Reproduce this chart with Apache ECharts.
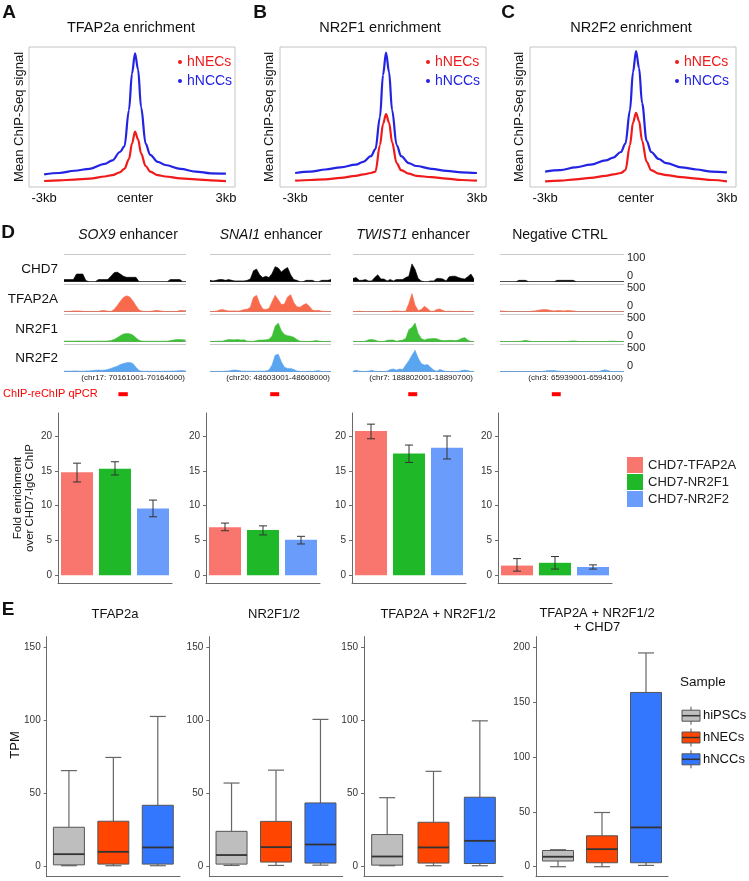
<!DOCTYPE html>
<html><head><meta charset="utf-8">
<script src="https://cdn.jsdelivr.net/npm/echarts@6/dist/echarts.min.js"></script>
<style>html,body{margin:0;padding:0;background:#fff}#c{width:749px;height:881px}</style>
</head><body><div id="c"></div>
<script>
// ---------------- DATA ----------------
// Panels A-C: mean ChIP-seq profiles (relative units), position in kb from peak center
const profileX = [-3,-2.5,-2,-1.5,-1,-0.75,-0.5,-0.35,-0.2,-0.1,0,0.1,0.2,0.35,0.5,0.75,1,1.5,2,2.5,3];
const tfap2aNECs = [0.043,0.047,0.053,0.06,0.075,0.085,0.105,0.13,0.2,0.31,0.395,0.34,0.24,0.15,0.11,0.085,0.075,0.062,0.055,0.048,0.042];
const tfap2aNCCs = [0.09,0.10,0.116,0.13,0.165,0.19,0.25,0.29,0.55,0.81,0.955,0.84,0.57,0.31,0.23,0.18,0.157,0.13,0.11,0.098,0.095];
const nr2f1NECs = [0.045,0.05,0.055,0.065,0.08,0.09,0.1,0.11,0.3,0.45,0.52,0.46,0.32,0.17,0.12,0.095,0.08,0.07,0.06,0.05,0.045];
const nr2f1NCCs = [0.10,0.11,0.125,0.14,0.16,0.18,0.22,0.27,0.5,0.8,0.96,0.82,0.55,0.3,0.22,0.17,0.15,0.13,0.115,0.105,0.10];
const nr2f2NECs = [0.04,0.045,0.055,0.065,0.08,0.09,0.1,0.12,0.3,0.46,0.53,0.47,0.33,0.18,0.12,0.095,0.085,0.07,0.06,0.05,0.04];
const nr2f2NCCs = [0.11,0.12,0.14,0.16,0.19,0.21,0.25,0.31,0.55,0.82,0.97,0.85,0.6,0.33,0.25,0.2,0.17,0.14,0.125,0.11,0.105];
const profileTitles = ['TFAP2a enrichment','NR2F1 enrichment','NR2F2 enrichment'];
const profileTickValues = [-3,0,3];
const profileTickLabels = ['-3kb','center','3kb'];
const cellNames = ['hNECs','hNCCs'];

// Panel D: genome browser tracks (40 bins per region)
const trackNames = ['CHD7','TFAP2A','NR2F1','NR2F2'];
const trackScale = [100,500,500,500];
const regionTitles = ['SOX9','SNAI1','TWIST1','Negative CTRL'];
const regionCoords = ['(chr17: 70161001-70164000)','(chr20: 48603001-48608000)','(chr7: 188802001-18890700)','(chr3: 65939001-6594100)'];
const sox9CHD7   = [8,8,8,8,28,28,28,4,0,0,0,8,8,8,8,20,33,35,28,20,16,16,16,16,0,0,0,0,0,0,0,0,0,0,8,8,8,8,0,0];
const sox9TFAP2A = [5,5,5,15,15,15,8,5,5,5,5,5,20,20,10,5,40,110,190,260,290,270,200,110,30,10,5,5,10,20,20,15,5,5,5,5,5,20,20,20];
const sox9NR2F1  = [10,10,10,10,12,12,10,10,10,10,10,10,10,10,15,20,40,70,110,140,150,145,120,70,25,10,8,8,8,8,8,8,8,10,20,30,40,40,35,30];
const sox9NR2F2  = [10,10,10,15,15,10,10,15,15,20,25,30,25,30,40,60,80,100,130,150,165,170,150,80,20,10,8,8,8,8,8,8,8,10,10,15,15,20,20,15];
const snai1CHD7   = [5,3,5,8,8,5,8,5,3,3,3,3,5,10,40,46,25,15,20,15,30,55,50,35,45,52,25,8,5,0,0,5,5,5,0,0,5,5,5,8];
const snai1TFAP2A = [5,5,10,30,40,25,15,15,15,10,20,40,45,80,260,300,150,50,40,60,180,300,220,130,140,270,310,170,90,80,120,150,100,30,20,25,10,5,5,5];
const snai1NR2F1  = [5,5,8,10,10,25,40,35,35,40,30,35,10,5,5,20,30,30,35,45,100,280,340,200,130,110,100,80,40,10,5,5,5,10,20,15,5,5,5,5];
const snai1NR2F2  = [5,5,5,5,5,10,15,25,30,25,15,10,10,10,10,10,10,10,15,30,120,300,320,180,80,60,60,40,15,5,5,5,10,5,15,20,5,5,5,5];
const twist1CHD7   = [12,15,5,5,8,3,3,15,25,10,10,3,8,3,8,8,8,15,20,65,45,12,3,0,0,3,3,12,12,10,3,18,20,20,15,12,10,18,28,10];
const twist1TFAP2A = [3,3,10,3,0,0,0,0,0,0,0,3,3,15,15,10,5,10,150,330,120,20,40,100,60,10,10,40,50,20,5,10,5,5,5,10,5,3,3,3];
const twist1NR2F1  = [5,5,5,5,10,35,40,30,10,5,5,25,30,30,10,20,30,60,220,260,340,150,60,30,50,55,60,55,30,20,20,25,25,20,30,60,75,30,5,5];
const twist1NR2F2  = [10,25,10,5,5,10,25,10,5,5,5,10,40,50,30,50,40,120,200,300,390,250,150,120,130,80,30,10,40,20,5,5,5,5,5,20,30,20,5,5];
const ctrlCHD7   = [0,0,0,0,0,0,5,5,5,0,0,0,0,0,0,0,0,0,5,5,5,5,5,5,0,0,0,0,0,0,0,0,0,0,0,0,0,0,0,0];
const ctrlTFAP2A = [15,10,5,0,0,0,0,0,0,0,10,15,25,35,40,35,20,15,20,20,15,20,20,15,5,0,0,0,0,0,0,0,0,0,0,0,0,0,0,0];
const ctrlNR2F1  = [3,3,3,3,3,3,3,15,25,15,3,3,3,3,3,3,3,3,3,3,3,3,10,15,10,3,3,3,3,3,3,3,3,3,5,10,10,5,3,3];
const ctrlNR2F2  = [3,3,3,3,3,3,3,3,3,3,3,3,3,3,10,20,20,20,15,10,3,3,3,3,3,3,3,3,3,3,3,3,20,35,20,3,3,3,3,3];
const qpcrAmplicons = [[17.4,20.4],[19.4,22.3],[17.8,20.7],[16.3,19.1]]; // bin coordinates

// Panel D: ChIP-reChIP fold enrichment
const pairNames = ['CHD7-TFAP2A','CHD7-NR2F1','CHD7-NR2F2'];
const foldTFAP2A = [14.8,6.9,20.7,1.4], loTFAP2A = [13.4,6.4,19.6,0.6], hiTFAP2A = [16.1,7.5,21.7,2.4];
const foldNR2F1  = [15.3,6.5,17.5,1.8], loNR2F1  = [14.4,5.8,16.2,0.9], hiNR2F1  = [16.3,7.1,18.7,2.7];
const foldNR2F2  = [9.6,5.1,18.3,1.2],  loNR2F2  = [8.4,4.5,16.7,0.9],  hiNR2F2  = [10.8,5.6,20.0,1.5];
const foldTicks = [0,5,10,15,20];

// Panel E: TPM boxplots [min, Q1, median, Q3, max]
const samples = ['hiPSCs','hNECs','hNCCs'];
const boxTitles = ['TFAP2a','NR2F1/2','TFAP2A + NR2F1/2','TFAP2A + NR2F1/2\n+ CHD7'];
const boxTFAP2a = [[0.5,1.1,8.4,26.8,65.5],[0.5,1.6,10,30.9,74.5],[0.5,1.6,13,41.8,102.5]];
const boxNR2F   = [[0.7,1.6,7.8,24,57],[0.7,3,13.2,30.8,65.8],[0.9,2.3,15,43.4,100.5]];
const boxBoth   = [[0.5,0.9,6.8,21.8,47],[0.5,2.3,13,30.2,65],[0.5,2,17.5,47.3,99.5]];
const boxAll    = [[0,5.2,9.1,14.8,15.5],[0,3.6,16,28.2,49.4],[1.2,3.6,35.8,158.8,194.8]];
const tpmTicksA = [0,50,100,150];
const tpmTicksB = [0,50,100,150,200];

// ---------------- STYLE / LAYOUT ----------------
const FONT = 'Liberation Sans, Arial, Helvetica, sans-serif';
const RED = '#f01a1a', BLUE = '#2323e4';
const trackColors = ['#000000','#f9694b','#3cbf34','#5aa5ef'];
const pairColors = ['#f8766d','#1eb829','#6a9cfb'];
const sampleColors = ['#bebebe','#ff4500','#3377ff'];

const grids=[], xAxes=[], yAxes=[], series=[], legends=[], graphics=[];
function addGrid(g,xa,ya){const i=grids.length;grids.push(g);xa.gridIndex=i;ya.gridIndex=i;xAxes.push(xa);yAxes.push(ya);return i;}
function T(text,x,y,o){o=o||{};graphics.push({type:'text',x:x,y:y,rotation:o.rot||0,silent:true,style:Object.assign({text:text,fill:o.color||'#111',fontSize:o.size||13,fontFamily:FONT,fontWeight:o.weight||'normal',align:o.align||'center',verticalAlign:o.va||'middle'},o.extra||{})});}

// ---- Panels A-C
const profileLeft=[29,280,530], profileW=206, profileTop=47, profileH=140;
const profileSets=[[tfap2aNECs,tfap2aNCCs],[nr2f1NECs,nr2f1NCCs],[nr2f2NECs,nr2f2NCCs]];
const legendLeft=[178,426,675], titleX=[131,380,631], ylabX=[19,269,519];
profileSets.forEach((set,p)=>{
  const gi=addGrid({left:profileLeft[p],top:profileTop,width:profileW,height:profileH,show:true,borderColor:'#c4c4c4',borderWidth:1},
    {type:'value',min:-3.5,max:3.3,axisLine:{show:false},axisTick:{show:false},splitLine:{show:false},
     axisLabel:{customValues:profileTickValues,formatter:v=>profileTickLabels[profileTickValues.indexOf(v)],margin:5,fontSize:13,color:'#111',fontFamily:FONT}},
    {type:'value',min:0,max:1,show:false});
  [[set[1],cellNames[1],BLUE],[set[0],cellNames[0],RED]].forEach(([arr,name,col])=>{
    series.push({type:'line',name:name,xAxisIndex:gi,yAxisIndex:gi,data:profileX.map((x,i)=>[x,arr[i]]),showSymbol:false,smooth:0.35,smoothMonotone:'x',lineStyle:{color:col,width:2.2},itemStyle:{color:col},silent:true});
  });
  legends.push({left:legendLeft[p],top:55,padding:0,orient:'vertical',selectedMode:false,icon:'circle',itemWidth:4,itemHeight:4,itemGap:5,
    data:[{name:cellNames[0],textStyle:{color:RED}},{name:cellNames[1],textStyle:{color:BLUE}}],textStyle:{fontSize:14,fontFamily:FONT}});
  T(profileTitles[p],titleX[p],28,{size:14.5});
  T('Mean ChIP-Seq signal',ylabX[p],117,{size:13,rot:Math.PI/2});
});
T('A',9,13,{size:19,weight:'bold'});T('B',260,13,{size:19,weight:'bold'});T('C',508,13,{size:19,weight:'bold'});

// ---- Panel D tracks
const regionLeft=[64,210,353,500], regionWidth=[122,121,121,124];
const trackTop=[254.3,284.3,314.3,344.3], trackH=27.4;
const regionTracks=[[sox9CHD7,sox9TFAP2A,sox9NR2F1,sox9NR2F2],[snai1CHD7,snai1TFAP2A,snai1NR2F1,snai1NR2F2],
  [twist1CHD7,twist1TFAP2A,twist1NR2F1,twist1NR2F2],[ctrlCHD7,ctrlTFAP2A,ctrlNR2F1,ctrlNR2F2]];
regionTracks.forEach((tracks,r)=>{
  tracks.forEach((vals,t)=>{
    const gi=addGrid({left:regionLeft[r],top:trackTop[t],width:regionWidth[r],height:trackH},
      {type:'value',min:0,max:vals.length-1,show:false},
      {type:'value',min:0,max:trackScale[t],interval:trackScale[t],axisLine:{show:false},axisTick:{show:false},axisLabel:{show:false},
       splitLine:{show:true,lineStyle:{color:['#9a9a9a','#c9c9c9'],width:1}}});
    series.push({type:'line',xAxisIndex:gi,yAxisIndex:gi,data:vals.map((v,i)=>[i,v]),showSymbol:false,silent:true,
      lineStyle:{color:trackColors[t],width:0.6},areaStyle:{color:trackColors[t],opacity:1},z:3});
    if(t===3){
      series.push({type:'custom',xAxisIndex:gi,yAxisIndex:gi,clip:false,silent:true,data:[qpcrAmplicons[r]],
        encode:{x:[0,1]},
        renderItem:(params,api)=>{const a=api.coord([api.value(0),0]),b=api.coord([api.value(1),0]);
          return {type:'rect',shape:{x:a[0],y:a[1]+20.5,width:b[0]-a[0],height:4},style:{fill:'#ff0000'}};}});
    }
  });
  T(regionCoords[r],regionLeft[r]+regionWidth[r]-1,378,{size:8,align:'right',color:'#222'});
});
const regionTitleX=[128,271,413,560];
regionTitles.forEach((name,r)=>{
  const txt = r<3 ? '{i|'+name+'} enhancer' : name;
  graphics.push({type:'text',x:regionTitleX[r],y:235,silent:true,style:{text:txt,fill:'#111',fontSize:14,fontFamily:FONT,align:'center',verticalAlign:'middle',
    rich:{i:{fontStyle:'italic',fontSize:14,fontFamily:FONT,fill:'#111'}}}});
});
const trackLabelY=[269.3,299.3,329,358.3];
trackNames.forEach((n,t)=>{
  T(n,58,trackLabelY[t],{size:13.5,align:'right'});
  T(String(trackScale[t]),627,trackTop[t]+4,{size:11,align:'left',color:'#222'});
  T('0',627,trackTop[t]+trackH-6,{size:11,align:'left',color:'#222'});
});
T('ChIP-reChIP qPCR',3,394,{size:11,align:'left',color:'#ff0000'});
T('D',8,233,{size:19,weight:'bold'});

// ---- Panel D bars
const barLeft=[58,206,352,498], barW=114, barTop=413, barH=170;
const foldSets=[foldTFAP2A,foldNR2F1,foldNR2F2], loSets=[loTFAP2A,loNR2F1,loNR2F2], hiSets=[hiTFAP2A,hiNR2F1,hiNR2F2];
const axisGray='#6a6a6a';
barLeft.forEach((lx,g)=>{
  const gi=addGrid({left:lx,top:barTop,width:barW,height:barH},
    {type:'category',data:pairNames,axisLine:{onZero:false,lineStyle:{color:axisGray,width:1}},axisTick:{alignWithLabel:true,length:3,lineStyle:{color:axisGray}},axisLabel:{show:false}},
    {type:'value',min:-1.1,max:23.3,axisLine:{show:true,lineStyle:{color:axisGray,width:1}},splitLine:{show:false},
     axisTick:{show:true,length:3,customValues:foldTicks,lineStyle:{color:axisGray}},
     axisLabel:{customValues:foldTicks,fontSize:10,color:'#333',fontFamily:FONT,margin:6}});
  pairNames.forEach((nm,s)=>{
    series.push({type:'bar',name:nm,xAxisIndex:gi,yAxisIndex:gi,barWidth:32,barGap:'-100%',
      data:pairNames.map((_,k)=>k===s?foldSets[s][g]:'-'),itemStyle:{color:pairColors[s]},silent:true});
  });
  series.push({type:'custom',xAxisIndex:gi,yAxisIndex:gi,silent:true,z:5,encode:{x:0,y:[1,2]},
    data:pairNames.map((_,s)=>[s,loSets[s][g],hiSets[s][g]]),
    renderItem:(params,api)=>{const lo=api.coord([api.value(0),api.value(1)]),hi=api.coord([api.value(0),api.value(2)]);const w=4;
      const st={stroke:'#333',lineWidth:1};
      return {type:'group',children:[
        {type:'line',shape:{x1:lo[0],y1:lo[1],x2:hi[0],y2:hi[1]},style:st},
        {type:'line',shape:{x1:lo[0]-w,y1:lo[1],x2:lo[0]+w,y2:lo[1]},style:st},
        {type:'line',shape:{x1:hi[0]-w,y1:hi[1],x2:hi[0]+w,y2:hi[1]},style:st}]};}});
});
legends.push({left:627,top:457,padding:0,orient:'vertical',selectedMode:false,icon:'rect',itemWidth:16,itemHeight:16,itemGap:1,
  data:pairNames,textStyle:{fontSize:13,fontFamily:FONT,color:'#222'}});
T('Fold enrichment\nover CHD7-IgG ChIP',24,498,{size:11.5,rot:Math.PI/2,extra:{lineHeight:12}});

// ---- Panel E boxplots
const boxLeft=[46.7,209.3,364,536], boxWidthGrid=[133.3,133.4,139,132], boxTop=636.7, boxH=240;
const boxSets=[boxTFAP2a,boxNR2F,boxBoth,boxAll];
const boxRanges=[[-7,157],[-7,157],[-7,157],[-9.1,209.6]];
const boxTicks=[tpmTicksA,tpmTicksA,tpmTicksA,tpmTicksB];
boxSets.forEach((set,g)=>{
  const gi=addGrid({left:boxLeft[g],top:boxTop,width:boxWidthGrid[g],height:boxH},
    {type:'category',data:samples,axisLine:{onZero:false,lineStyle:{color:axisGray,width:1}},axisTick:{alignWithLabel:true,length:3,lineStyle:{color:axisGray}},axisLabel:{show:false}},
    {type:'value',min:boxRanges[g][0],max:boxRanges[g][1],axisLine:{show:true,lineStyle:{color:axisGray,width:1}},splitLine:{show:false},
     axisTick:{show:true,length:3,customValues:boxTicks[g],lineStyle:{color:axisGray}},
     axisLabel:{customValues:boxTicks[g],fontSize:10,color:'#333',fontFamily:FONT,margin:6}});
  series.push({type:'custom',xAxisIndex:gi,yAxisIndex:gi,silent:true,encode:{x:0,y:[1,2,3,4,5]},
    data:set.map((b,k)=>[k].concat(b)),
    renderItem:(params,api)=>{
      const k=api.value(0);
      const p=[1,2,3,4,5].map(d=>api.coord([k,api.value(d)]));
      const cx=p[0][0], hw=15.5, cw=8;
      const wst={stroke:'#666',lineWidth:1.2};
      return {type:'group',children:[
        {type:'line',shape:{x1:cx,y1:p[4][1],x2:cx,y2:p[3][1]},style:wst},
        {type:'line',shape:{x1:cx,y1:p[1][1],x2:cx,y2:p[0][1]},style:wst},
        {type:'line',shape:{x1:cx-cw,y1:p[4][1],x2:cx+cw,y2:p[4][1]},style:wst},
        {type:'line',shape:{x1:cx-cw,y1:p[0][1],x2:cx+cw,y2:p[0][1]},style:wst},
        {type:'rect',shape:{x:cx-hw,y:p[3][1],width:2*hw,height:p[1][1]-p[3][1]},style:{fill:sampleColors[k],stroke:'#555',lineWidth:1}},
        {type:'line',shape:{x1:cx-hw,y1:p[2][1],x2:cx+hw,y2:p[2][1]},style:{stroke:'#333',lineWidth:1.8}}]};}});
});
const boxTitleX=[115,274,438,597];
boxTitles.forEach((t,g)=>{
  if(t.indexOf('\n')<0) T(t,boxTitleX[g],614,{size:13});
  else T(t,boxTitleX[g],607,{size:13,va:'top',extra:{lineHeight:13.5}});
});
T('TPM',15,745,{size:13,rot:Math.PI/2});
T('E',8,610,{size:19,weight:'bold'});
// legend for E
T('Sample',680,682,{size:13.5,align:'left'});
samples.forEach((s,k)=>{
  const cy=715.7+k*21.8;
  graphics.push({type:'line',silent:true,shape:{x1:691,y1:cy-9,x2:691,y2:cy+9},style:{stroke:'#555',lineWidth:1}});
  graphics.push({type:'rect',silent:true,shape:{x:682,y:cy-5.5,width:18,height:11},style:{fill:sampleColors[k],stroke:'#555',lineWidth:1}});
  graphics.push({type:'line',silent:true,shape:{x1:682,y1:cy,x2:700,y2:cy},style:{stroke:'#333',lineWidth:1.5}});
  T(s,703,cy,{size:13,align:'left'});
});

const chart=echarts.init(document.getElementById('c'),null,{renderer:'canvas'});
chart.setOption({animation:false,backgroundColor:'#fff',textStyle:{fontFamily:FONT},
  grid:grids,xAxis:xAxes,yAxis:yAxes,series:series,legend:legends,graphic:graphics});
</script></body></html>
